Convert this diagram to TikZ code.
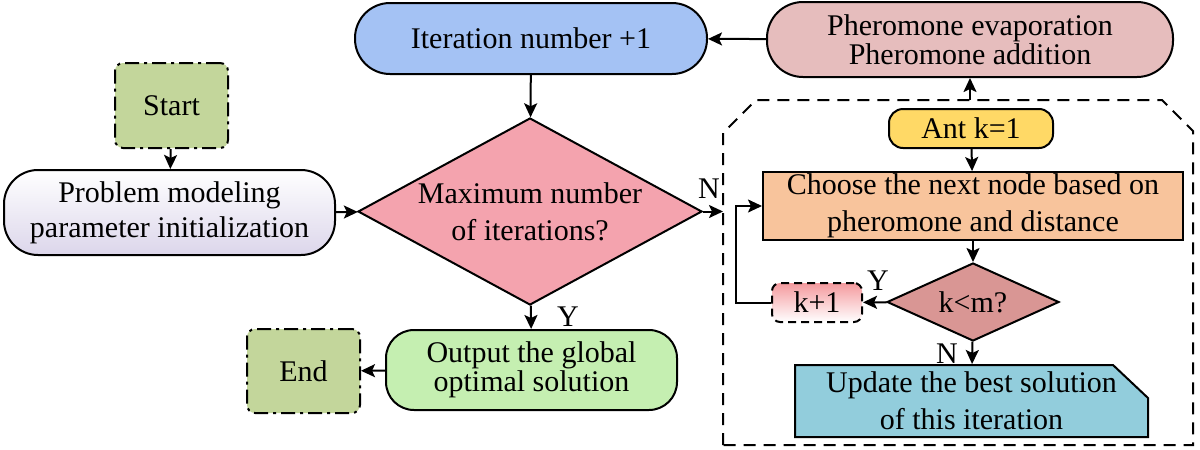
\documentclass[tikz,border=0pt]{standalone}
\usepackage{fontspec}
\setmainfont{Liberation Serif}
\usetikzlibrary{arrows.meta,shapes.geometric}

\definecolor{termgreen}{HTML}{C3D69B}
\definecolor{problow}{HTML}{DCD6EB}
\definecolor{iterblue}{HTML}{A4C2F4}
\definecolor{phero}{HTML}{E6BDBD}
\definecolor{maxpink}{HTML}{F4A3AE}
\definecolor{outgreen}{HTML}{C5EFB1}
\definecolor{antyellow}{HTML}{FFD966}
\definecolor{choosepeach}{HTML}{F8C49C}
\definecolor{kmrose}{HTML}{D99694}
\definecolor{kppink}{HTML}{F49A9E}
\definecolor{updblue}{HTML}{92CDDC}

\tikzset{
  base/.style={draw=black, line width=1pt, align=center, inner sep=0pt,
    font=\fontsize{15pt}{17.5pt}\selectfont},
  term/.style={base, fill=termgreen, rounded corners=4pt,
    dash pattern=on 7pt off 2.5pt on 1.5pt off 2.5pt,
    minimum width=56.5pt, minimum height=42.5pt},
  decide/.style={base, diamond, aspect=2},
  arr/.style={line width=1pt, -{Stealth[length=7pt,width=6.5pt,inset=1.5pt]}},
  lbl/.style={font=\fontsize{15pt}{17pt}\selectfont, inner sep=0pt},
}

\begin{document}
\begin{tikzpicture}[x=0.5pt, y=-0.5pt]
\useasboundingbox (0,0) rectangle (1200,450);

% ---- main loop ----
\node[term] (start) at (171.5,105.5) {Start};
\node[base, rounded corners=17pt, top color=white, bottom color=problow,
      minimum width=165.5pt, minimum height=42.5pt] (prob) at (169.5,212.5)
      {Problem modeling\\parameter initialization};
\node[base, rounded corners=17.5pt, fill=iterblue,
      minimum width=176pt, minimum height=35.5pt] (iter) at (531,38.5)
      {Iteration number +1};
\node[base, rounded corners=18pt, fill=phero,
      font=\fontsize{15pt}{13.5pt}\selectfont,
      minimum width=203pt, minimum height=37.5pt] (pher) at (970,39.5)
      {Pheromone evaporation\\Pheromone addition};
\node[decide, fill=maxpink, font=\fontsize{15pt}{18.5pt}\selectfont,
      minimum width=172pt, minimum height=93.5pt] (maxit) at (530,211.5)
      {Maximum number\\of iterations?};
\node[base, rounded corners=14pt, fill=outgreen,
      font=\fontsize{15pt}{13.5pt}\selectfont,
      minimum width=145.5pt, minimum height=40pt] (out) at (531.5,370)
      {Output the global\\optimal solution};
\node[term, minimum height=42pt] (end) at (303.5,371) {End};

% ---- ant construction block ----
\draw[line width=1pt, dash pattern=on 6pt off 4pt]
  (723,445) -- (723,133) -- (756,100) -- (1162,100) -- (1193,131)
  -- (1193,445) -- cycle;
\coordinate (blocktop) at (970,100);
\coordinate (blockin) at (723,211.5);

\node[base, rounded corners=7pt, fill=antyellow,
      minimum width=82pt, minimum height=19.5pt] (ant) at (971,128.5)
      {Ant k=1};
\node[base, fill=choosepeach, font=\fontsize{15pt}{18.5pt}\selectfont,
      minimum width=210pt, minimum height=34pt] (choose) at (973,206)
      {Choose the next node based on\\pheromone and distance};
\node[decide, fill=kmrose, minimum width=86pt, minimum height=39pt]
      (kless) at (973,302) {k<m?};
\node[base, rounded corners=4pt, dash pattern=on 4pt off 2.5pt,
      top color=kppink, bottom color=white,
      minimum width=45pt, minimum height=19.5pt] (kp) at (817,302.5) {k+1};

% update box with one chamfered corner
\draw[line width=1pt, fill=updblue]
  (795,365) -- (1113,365) -- (1148,398) -- (1148,437) -- (795,437) -- cycle;
\node[base, draw=none, font=\fontsize{15pt}{18.5pt}\selectfont,
      minimum width=176.5pt, minimum height=36pt] (upd) at (971.5,401)
      {Update the best solution\\of this iteration};

% ---- connectors ----
\draw[arr] (start) -- (prob);
\draw[arr] (prob) -- (maxit);
\draw[arr] (iter) -- (maxit);
\draw[arr] (pher) -- (iter);
\draw[arr] (blocktop) -- (pher);
\draw[arr] (maxit.east) -- (blockin);
\draw[arr] (maxit) -- (out);
\draw[arr] (out) -- (end);
\draw[arr] (ant) -- (choose);
\draw[arr] (choose) -- (kless);
\draw[arr] (kless) -- (kp);
\draw[arr] (kp.west) -- ++(-35,0) |- (choose.west);
\draw[arr] (kless) -- (upd);

% ---- branch labels ----
\node[lbl] (nmax) at (709,189) {N};
\node[lbl] (ymax) at (568,317) {Y};
\node[lbl] (ykm) at (878,281) {Y};
\node[lbl] (nkm) at (947,354) {N};
\end{tikzpicture}
\end{document}
